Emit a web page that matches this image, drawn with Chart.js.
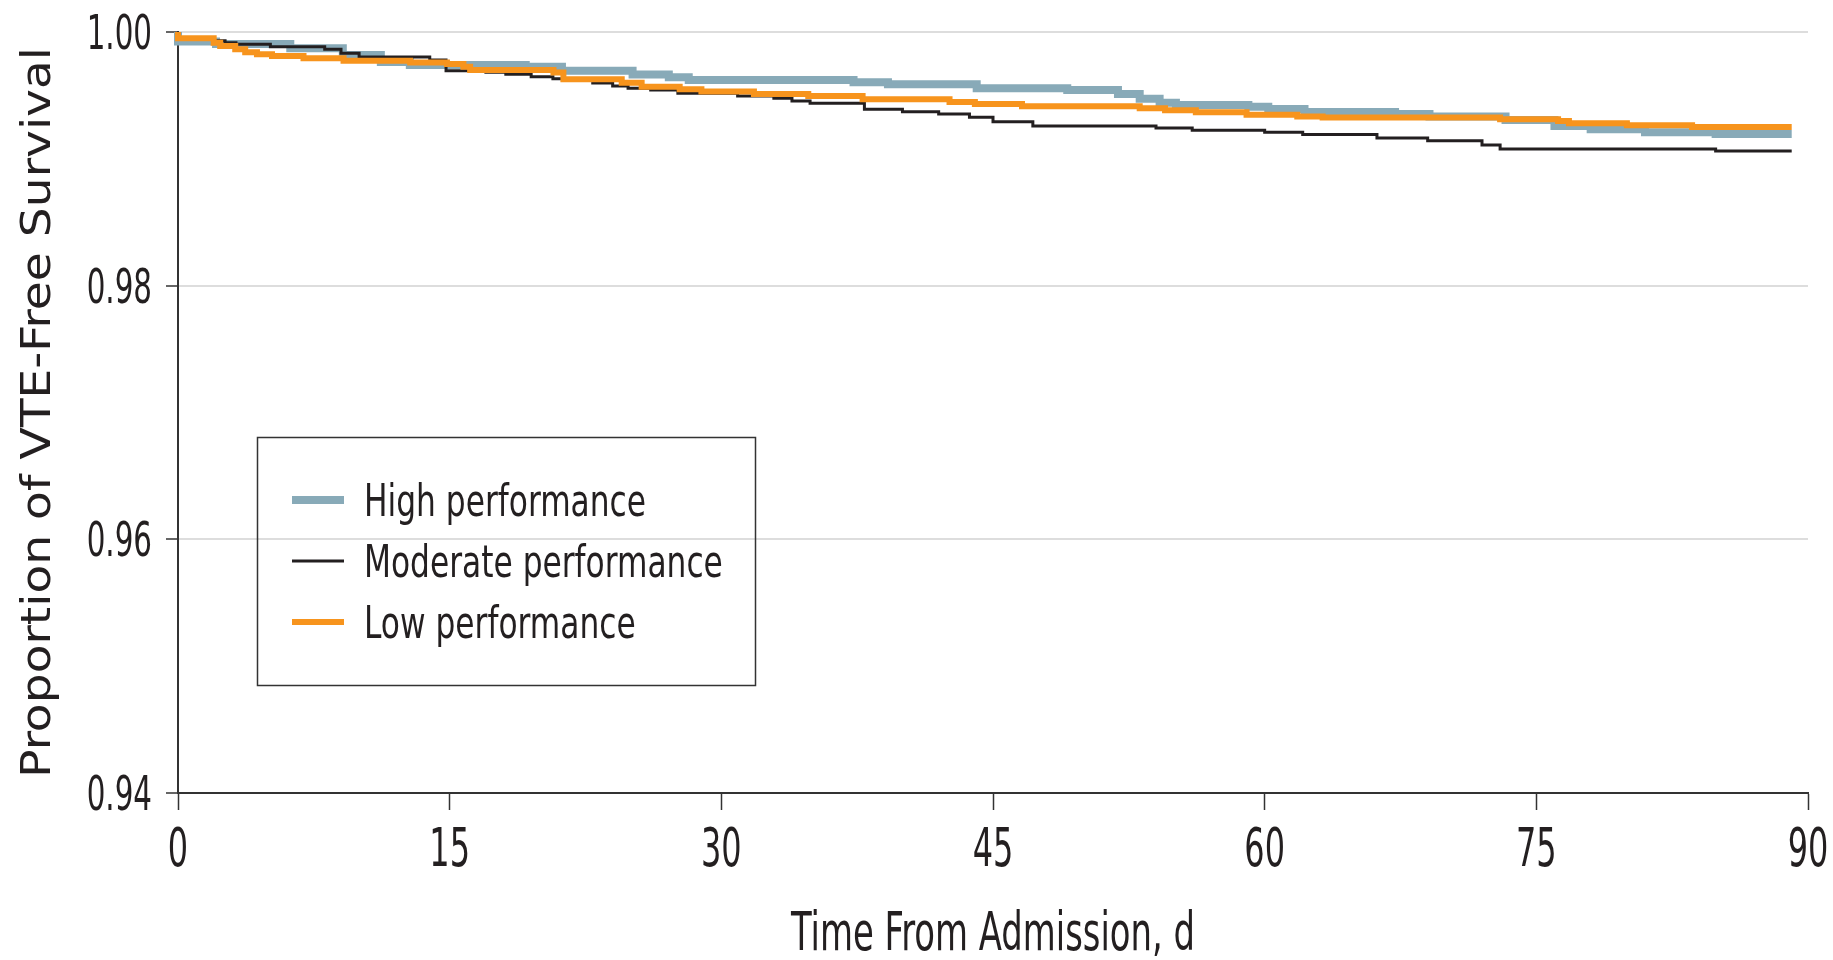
<!DOCTYPE html>
<html>
<head>
<meta charset="utf-8">
<script src="https://cdn.jsdelivr.net/npm/chart.js@4.4.1/dist/chart.umd.min.js"></script>
<style>
  html, body { margin: 0; padding: 0; background: #ffffff; }
  #wrap { width: 1833px; height: 960px; position: relative; }
</style>
</head>
<body>
<div id="wrap"><canvas id="c" width="1833" height="960"></canvas></div>
<script>
// ---- data ----
const seriesNames = ["High performance", "Moderate performance", "Low performance"];
const xTicks = [0, 15, 30, 45, 60, 75, 90];
const yTicks = [0.94, 0.96, 0.98, 1.00];
const xTitle = "Time From Admission, d";
const yTitle = "Proportion of VTE-Free Survival";

const highT = [0, 2.1, 6.2, 9.1, 11.2, 12.8, 19.2, 21.2, 25.1, 27.1, 28.2, 37.3, 39.2, 44.1, 49.1, 51.9, 53.1, 54.2, 55.1, 59.1, 60.2, 62.2, 67.2, 69.1, 73.3, 76.0, 78.0, 81.0, 84.9, 86.9, 89.1];
const highS = [1.0, 0.99925, 0.99905, 0.99872, 0.99819, 0.99764, 0.99740, 0.99727, 0.99695, 0.99664, 0.99643, 0.99622, 0.99604, 0.99589, 0.99556, 0.99543, 0.99512, 0.99474, 0.99443, 0.99425, 0.99411, 0.99393, 0.99370, 0.99354, 0.99333, 0.99307, 0.99259, 0.99233, 0.99210, 0.99196, 0.99196];

const modT = [0, 2.0, 2.6, 3.2, 5.1, 8.1, 9.0, 10.0, 13.9, 14.8, 17.0, 18.1, 19.5, 20.7, 21.8, 22.9, 24.0, 24.85, 26.1, 27.6, 30.9, 32.9, 33.9, 34.9, 37.9, 40.0, 42.0, 43.7, 45.0, 47.2, 54.0, 56.0, 60.0, 62.1, 66.2, 69.0, 72.0, 73.0, 84.9, 86.7, 89.1];
const modS = [1.0, 0.99950, 0.99931, 0.99916, 0.99903, 0.99884, 0.99864, 0.99832, 0.99803, 0.99779, 0.99695, 0.99682, 0.99667, 0.99648, 0.99632, 0.99622, 0.99598, 0.99574, 0.99556, 0.99543, 0.99517, 0.99496, 0.99478, 0.99456, 0.99438, 0.99391, 0.99372, 0.99354, 0.99328, 0.99293, 0.99259, 0.99244, 0.99225, 0.99210, 0.99191, 0.99165, 0.99143, 0.99110, 0.99078, 0.99062, 0.99062];

const lowT = [0, 1.97, 2.33, 3.16, 3.71, 4.36, 5.19, 6.93, 9.14, 12.82, 14.85, 15.76, 16.13, 20.73, 21.28, 24.5, 25.6, 27.7, 28.9, 31.8, 34.8, 37.8, 42.6, 44.0, 46.6, 53.1, 54.5, 56.2, 59.0, 61.8, 63.2, 73.0, 76.2, 76.8, 80.0, 83.6, 85.5, 89.1];
const lowS = [1.0, 0.99950, 0.99916, 0.99890, 0.99864, 0.99840, 0.99824, 0.99811, 0.99793, 0.99774, 0.99760, 0.99748, 0.99727, 0.99701, 0.99681, 0.99627, 0.99600, 0.99569, 0.99548, 0.99530, 0.99511, 0.99496, 0.99470, 0.99448, 0.99433, 0.99415, 0.99399, 0.99383, 0.99367, 0.99348, 0.99333, 0.99325, 0.99312, 0.99299, 0.99281, 0.99265, 0.99251, 0.99251];

// ---- styling ----
const COL_HIGH = "#88aab8";
const COL_MOD = "#231f20";
const COL_LOW = "#f7941d";
const TEXT = "#231f20";
const FAM = "'DejaVu Sans Condensed', 'DejaVu Sans', sans-serif";

function pts(t, s) { return t.map((x, i) => ({ x: x, y: s[i] })); }

// condensed text helper (the reference uses a tall, narrow face)
function txt(ctx, s, x, y, size, sx, align, rot) {
  ctx.save();
  ctx.translate(x, y);
  if (rot) ctx.rotate(rot);
  ctx.scale(sx, 1);
  ctx.font = size + "px " + FAM;
  ctx.fillStyle = TEXT;
  ctx.textAlign = align;
  ctx.textBaseline = 'alphabetic';
  ctx.fillText(s, 0, 0);
  ctx.restore();
}

const textLayer = {
  id: 'textLayer',
  afterDraw(chart) {
    const ctx = chart.ctx;
    const xs = chart.scales.x, ys = chart.scales.y;
    const area = chart.chartArea;
    // y tick labels
    ys.ticks.forEach(t => {
      const py = ys.getPixelForValue(t.value);
      txt(ctx, Number(t.value).toFixed(2), 152, py + 17, 48, 0.68, 'right', 0);
    });
    // x tick labels
    xs.ticks.forEach(t => {
      const px = xs.getPixelForValue(t.value);
      txt(ctx, String(t.value), px, 866, 53, 0.67, 'center', 0);
    });
    // axis titles
    txt(ctx, xTitle, (area.left + area.right) / 2, 950, 53, 0.71, 'center', 0);
    txt(ctx, yTitle, 50, (area.top + area.bottom) / 2, 40, 1.31, 'center', -Math.PI / 2);

    // legend
    const x0 = 257, y0 = 437, w = 498, h = 248;
    ctx.save();
    ctx.strokeStyle = '#333333';
    ctx.lineWidth = 1.5;
    ctx.strokeRect(x0 + 0.5, y0 + 0.5, w, h);
    ctx.restore();
    const rows = [500, 561, 622];
    chart.data.datasets.forEach((ds, i) => {
      const y = rows[i];
      ctx.save();
      ctx.beginPath();
      ctx.strokeStyle = ds.borderColor;
      ctx.lineWidth = ds.borderWidth;
      ctx.lineCap = 'butt';
      ctx.moveTo(292, y);
      ctx.lineTo(344, y);
      ctx.stroke();
      ctx.restore();
      txt(ctx, ds.label, 364, y + 16, 44, 0.79, 'left', 0);
    });
  }
};

new Chart(document.getElementById('c'), {
  type: 'line',
  data: {
    datasets: [
      { label: seriesNames[0], data: pts(highT, highS), borderColor: COL_HIGH, backgroundColor: COL_HIGH, borderWidth: 8, stepped: 'after', pointRadius: 0, fill: false, order: 3, borderCapStyle: 'butt', clip: false },
      { label: seriesNames[1], data: pts(modT, modS), borderColor: COL_MOD, backgroundColor: COL_MOD, borderWidth: 3, stepped: 'after', pointRadius: 0, fill: false, order: 2, borderCapStyle: 'butt', clip: false },
      { label: seriesNames[2], data: pts(lowT, lowS), borderColor: COL_LOW, backgroundColor: COL_LOW, borderWidth: 6, stepped: 'after', pointRadius: 0, fill: false, order: 1, borderCapStyle: 'butt', clip: false }
    ]
  },
  options: {
    responsive: false,
    animation: false,
    layout: { padding: { left: 0, right: 25, top: 32, bottom: 0 } },
    plugins: { legend: { display: false }, tooltip: { enabled: false }, title: { display: false } },
    scales: {
      x: {
        type: 'linear',
        min: 0, max: 90,
        afterBuildTicks(scale) { scale.ticks = xTicks.map(v => ({ value: v })); },
        afterFit(scale) { scale.height = 167; scale.paddingLeft = 0; scale.paddingRight = 0; },
        grid: { drawOnChartArea: false, drawTicks: true, tickLength: 17, tickColor: '#333333', tickWidth: 1.5 },
        border: { display: true, color: '#333333', width: 2 },
        ticks: { display: false },
        title: { display: false }
      },
      y: {
        type: 'linear',
        min: 0.94, max: 1.0,
        afterBuildTicks(scale) { scale.ticks = yTicks.map(v => ({ value: v })); },
        afterFit(scale) { scale.width = 178; scale.paddingTop = 0; scale.paddingBottom = 0; },
        grid: { color: '#dddddd', lineWidth: 2, drawTicks: true, tickLength: 12, tickColor: '#333333', tickWidth: 1.5 },
        border: { display: true, color: '#333333', width: 2 },
        ticks: { display: false },
        title: { display: false }
      }
    }
  },
  plugins: [textLayer]
});
</script>
</body>
</html>
